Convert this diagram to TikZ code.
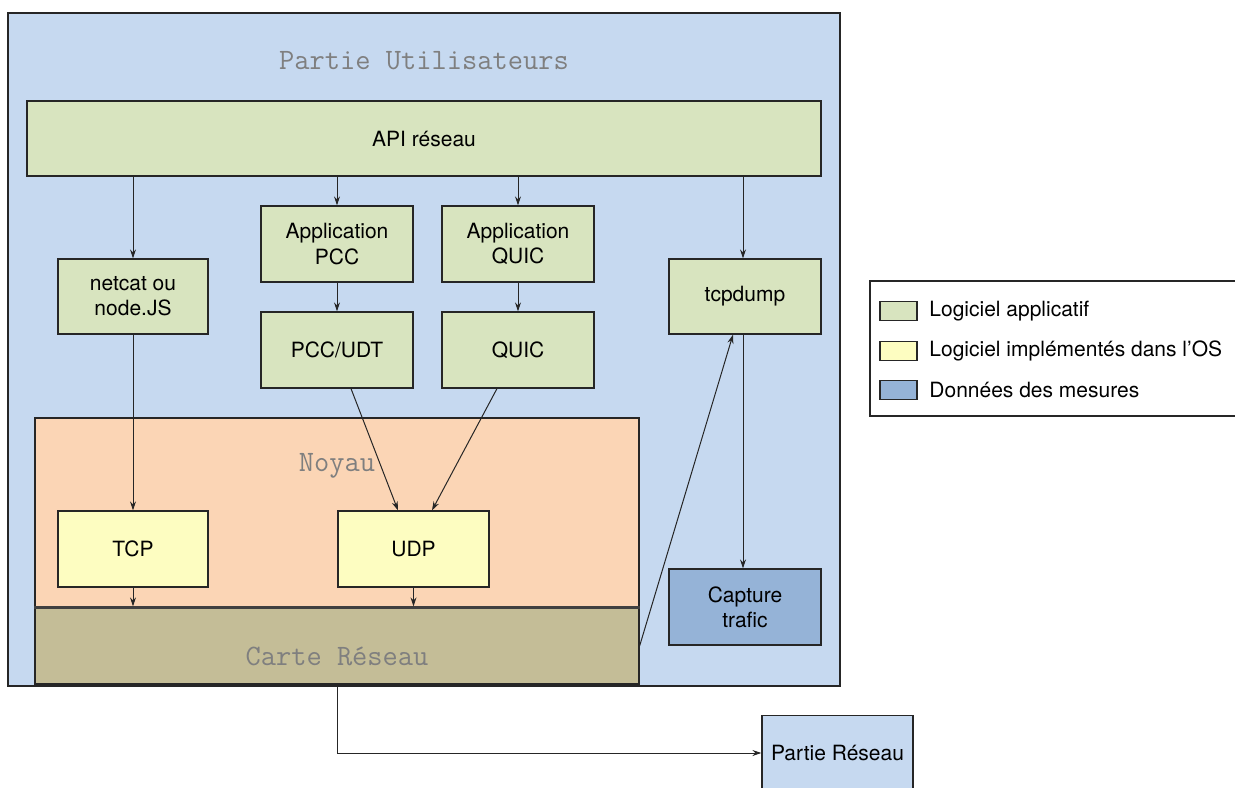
\documentclass[tikz,border=0pt]{standalone}
\usepackage{fontspec}
\setmainfont{TeX Gyre Heros}
\usetikzlibrary{arrows.meta}
\definecolor{userblue}{HTML}{C6D9F0}
\definecolor{appgreen}{HTML}{D8E4BF}
\definecolor{kernpeach}{HTML}{FBD5B5}
\definecolor{cardkhaki}{HTML}{C4BD97}
\definecolor{osyellow}{HTML}{FDFDC1}
\definecolor{datablue}{HTML}{95B3D7}
\definecolor{titlegray}{HTML}{7F7F7F}
\tikzset{
  box/.style={draw=black!85, line width=0.6pt, inner sep=0pt, align=center,
    font=\fontsize{10.5}{12.6}\selectfont},
  app/.style={box, fill=appgreen},
  os/.style={box, fill=osyellow},
  data/.style={box, fill=datablue},
  zone/.style={draw=black!85, line width=0.6pt, inner sep=0pt},
  ttl/.style={text=titlegray, font=\ttfamily\fontsize{14.8}{16}\selectfont},
  arr/.style={-{Stealth[length=4.5pt,width=3pt]}, line width=0.5pt, draw=black!85},
  legtxt/.style={anchor=west, inner sep=0pt, font=\fontsize{10.5}{12.6}\selectfont}
}
\begin{document}
\begin{tikzpicture}[x=0.5pt,y=-0.5pt]
\useasboundingbox (0,0) rectangle (1235,787);
% zones
\node[zone, fill=userblue, minimum width=416pt, minimum height=336.5pt] (user) at (424,349.5) {};
\node[ttl] (usertitle) at (424,61) {Partie Utilisateurs};
\node[app, minimum width=397pt, minimum height=37.5pt] (api) at (424,138.5) {API réseau};
\node[zone, fill=kernpeach, minimum width=302pt, minimum height=94.5pt] (noyau) at (337,512.5) {};
\node[ttl] (noyautitle) at (337,466) {Noyau};
\node[zone, fill=cardkhaki, minimum width=302pt, minimum height=38.5pt] (carte) at (337,645.5) {};
\draw[line width=1.2pt, draw=black!75] (noyau.south west) -- (noyau.south east);
\node[ttl] (cartetitle) at (337,656) {Carte Réseau};
% boxes
\node[app, minimum width=75pt, minimum height=37.5pt] (netcat) at (133,296.5) {netcat ou\\node.JS};
\node[app, minimum width=76pt, minimum height=38pt] (apppcc) at (337,244) {Application\\PCC};
\node[app, minimum width=76pt, minimum height=38pt] (appquic) at (518,244) {Application\\QUIC};
\node[app, minimum width=76pt, minimum height=38pt] (pccudt) at (337,350) {PCC/UDT};
\node[app, minimum width=76pt, minimum height=38pt] (quic) at (518,350) {QUIC};
\node[app, minimum width=76pt, minimum height=37.5pt] (tcpdump) at (745,296.5) {tcpdump};
\node[data, minimum width=76pt, minimum height=38pt] (capture) at (745,607) {Capture\\trafic};
\node[os, minimum width=75pt, minimum height=38pt] (tcp) at (133,549) {TCP};
\node[os, minimum width=75.5pt, minimum height=38pt] (udp) at (413.5,549) {UDP};
\node[box, fill=userblue, minimum width=75.5pt, minimum height=37.5pt] (reseau) at (837.5,753) {Partie Réseau};
% connectors
\draw[arr] (netcat.north |- api.south) -- (netcat.north);
\draw[arr] (apppcc.north |- api.south) -- (apppcc.north);
\draw[arr] (appquic.north |- api.south) -- (appquic.north);
\draw[arr] ([xshift=-1pt]tcpdump.north |- api.south) -- ([xshift=-1pt]tcpdump.north);
\draw[arr] (apppcc) -- (pccudt);
\draw[arr] (appquic) -- (quic);
\draw[arr] (netcat) -- (tcp);
\draw[arr] ([xshift=7pt]pccudt.south) -- ([xshift=-7.75pt]udp.north);
\draw[arr] ([xshift=-10.5pt]quic.south) -- ([xshift=9.25pt]udp.north);
\draw[arr] (tcp.south) -- (tcp.south |- carte.north);
\draw[arr] (udp.south) -- (udp.south |- carte.north);
\draw[arr] ([yshift=-0.25pt]carte.east) -- ([xshift=-6pt]tcpdump.south);
\draw[arr] ([xshift=-1pt]tcpdump.south) -- ([xshift=-1pt]tcpdump.south |- capture.north);
\draw[arr] (carte.south) |- (reseau.west);
% legend
\node[draw=black!85, line width=0.6pt, fill=white, minimum width=190pt, minimum height=67.5pt, inner sep=0pt] (legend) at (1060,348.5) {};
\node[app, minimum width=18.5pt, minimum height=9.5pt] (lg1) at (898.5,311) {};
\node[os, minimum width=18.5pt, minimum height=9.5pt] (lg2) at (898.5,351) {};
\node[data, minimum width=18.5pt, minimum height=9.5pt] (lg3) at (898.5,390) {};
\node[legtxt] (lt1) at (929,311) {Logiciel applicatif};
\node[legtxt] (lt2) at (929,351) {Logiciel implémentés dans l’OS};
\node[legtxt] (lt3) at (929,390) {Données des mesures};
\end{tikzpicture}
\end{document}
